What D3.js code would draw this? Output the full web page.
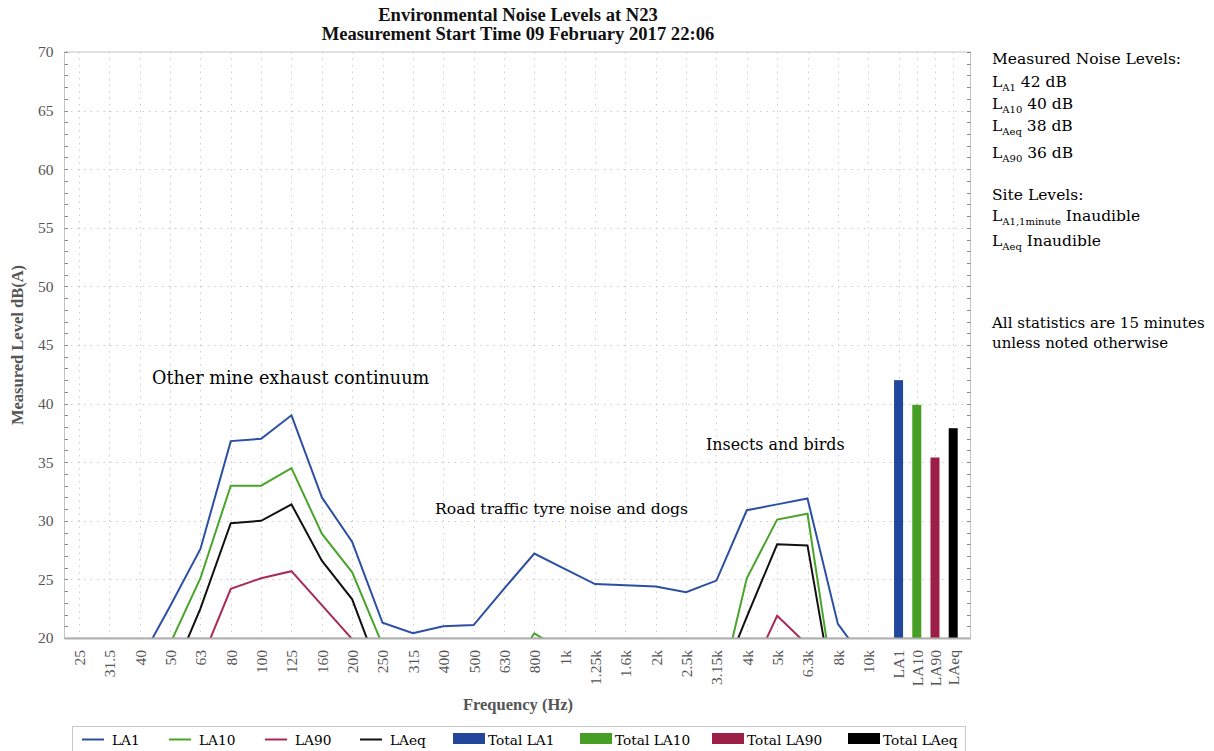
<!DOCTYPE html>
<html><head><meta charset="utf-8">
<script src="https://cdn.jsdelivr.net/npm/d3@7"></script>
<style>
body{margin:0;background:#fff}
text{font-family:"DejaVu Serif",serif}
</style>
</head><body><svg id="c" width="1214" height="751"></svg>
<script>
// ---------- data ----------
const frequencies = ["25","31.5","40","50","63","80","100","125","160","200","250","315","400","500","630","800","1k","1.25k","1.6k","2k","2.5k","3.15k","4k","5k","6.3k","8k","10k"];
const la1  = [10, 12, 18, 22.7, 27.6, 36.8, 37.0, 39.0, 32.0, 28.2, 21.3, 20.4, 21.0, 21.1, 24.2, 27.2, 25.9, 24.6, 24.5, 24.4, 23.9, 24.9, 30.9, 31.4, 31.9, 21.2, 17.7];
const la10 = [8, 10, 15, 19.5, 25.1, 33.0, 33.0, 34.5, 28.9, 25.6, 19.4, 12, 12, 13, 16.5, 20.4, 18.8, 14, 13, 13, 12, 14.2, 25.1, 30.1, 30.6, 13.5, 10];
const la90 = [5, 6, 8, 12, 17.9, 24.2, 25.1, 25.7, 22.8, 19.9, 15, 10, 10, 10, 10, 12, 10, 10, 10, 10, 10, 10, 16.3, 21.9, 19.4, 10, 8];
const laeq = [8, 10, 12, 16.4, 22.5, 29.8, 30.0, 31.4, 26.6, 23.3, 16.4, 12, 12, 12, 14, 17, 15, 12, 12, 12, 12, 15.4, 21.8, 28.0, 27.9, 13.0, 10];
const totalLabels = ["LA1","LA10","LA90","LAeq"];
const totalValues = [42.0, 39.9, 35.4, 37.9];
const yTicks = [20,25,30,35,40,45,50,55,60,65,70];
const seriesNames = ["LA1","LA10","LA90","LAeq"];
const lineColors = ["#2c4ea3","#4aa42b","#a82a57","#111111"];
const barColors  = ["#22469b","#479e24","#9c1f48","#000000"];
const annotations = ["Other mine exhaust continuum","Road traffic tyre noise and dogs","Insects and birds"];

// ---------- layout ----------
const svg = d3.select("#c");
svg.append("rect").attr("width",1214).attr("height",751).attr("fill","#fff");
const P = {left:64.5, right:970.5, top:52, bottom:638};
const x = d3.scaleLinear().domain([-0.478, 29.37]).range([P.left, P.right]);
const y = d3.scaleLinear().domain([20,70]).range([P.bottom, P.top]);
const totalIdx = totalLabels.map((d,j)=> 27 + 0.6*j);
const serifT = '"Liberation Serif","Times New Roman",serif';

// title
const title = svg.append("text").attr("text-anchor","middle").attr("font-weight","bold")
  .style("font-family",serifT).attr("font-size",18.6).attr("fill","#111");
title.append("tspan").attr("x",518).attr("y",21).text("Environmental Noise Levels at N23");
title.append("tspan").attr("x",518).attr("y",40).text("Measurement Start Time 09 February 2017 22:06");

// grid
const grid = svg.append("g").attr("stroke","#cdcdcd").attr("stroke-width",1).attr("stroke-dasharray","1.5,5");
grid.selectAll(".gh").data(yTicks.filter(v=>v>20&&v<70)).join("line")
  .attr("x1",P.left).attr("x2",P.right).attr("y1",d=>Math.round(y(d))+0.5).attr("y2",d=>Math.round(y(d))+0.5);
const allIdx = frequencies.map((d,i)=>i).concat(totalIdx);
grid.selectAll(".gv").data(allIdx).join("line")
  .attr("x1",d=>Math.round(x(d))+0.5).attr("x2",d=>Math.round(x(d))+0.5).attr("y1",P.top).attr("y2",P.bottom);

// frame
svg.append("rect").attr("x",P.left).attr("y",P.top).attr("width",P.right-P.left).attr("height",P.bottom-P.top)
  .attr("fill","none").attr("stroke","#c4c4c4").attr("stroke-width",1);

// minor ticks on both vertical axes
const minor = d3.range(20,71);
svg.append("g").attr("stroke","#888").selectAll("line").data(minor).join("line")
  .attr("x1",P.left).attr("x2",P.left+3.5).attr("y1",d=>Math.round(y(d))+0.5).attr("y2",d=>Math.round(y(d))+0.5);
svg.append("g").attr("stroke","#888").selectAll("line").data(minor).join("line")
  .attr("x1",P.right-3.5).attr("x2",P.right).attr("y1",d=>Math.round(y(d))+0.5).attr("y2",d=>Math.round(y(d))+0.5);

// clip
svg.append("clipPath").attr("id","clip").append("rect")
  .attr("x",P.left).attr("y",P.top).attr("width",P.right-P.left).attr("height",P.bottom-P.top);

// lines
const series = [la1, la10, la90, laeq];
const line = d3.line().x((d,i)=>x(i)).y(d=>y(d));
const lg = svg.append("g").attr("clip-path","url(#clip)");
series.forEach((s,k)=>{
  lg.append("path").datum(s).attr("d",line).attr("fill","none")
    .attr("stroke",lineColors[k]).attr("stroke-width",2).attr("stroke-linejoin","miter");
});

// total bars
svg.append("g").selectAll("rect").data(totalValues).join("rect")
  .attr("x",(d,j)=>x(totalIdx[j])-4.5).attr("width",9)
  .attr("y",d=>y(d)).attr("height",d=>y(20)-y(d))
  .attr("fill",(d,j)=>barColors[j]);

// bottom axis line
svg.append("line").attr("x1",P.left).attr("x2",P.right).attr("y1",P.bottom+0.5).attr("y2",P.bottom+0.5)
  .attr("stroke","#b0b0b0").attr("stroke-width",2);

// y axis labels
const yAxis = svg.append("g").attr("transform",`translate(${P.left},0)`)
  .call(d3.axisLeft(y).tickValues(yTicks).tickSize(0).tickPadding(11));
yAxis.select(".domain").remove();
yAxis.selectAll("text").style("font-family",serifT).attr("font-size",15.5).attr("fill","#555");

// x axis labels
const xLabels = frequencies.concat(totalLabels);
const xAxis = svg.append("g").attr("transform",`translate(0,${P.bottom})`)
  .call(d3.axisBottom(x).tickValues(allIdx).tickFormat((d,i)=>xLabels[i]).tickSize(0));
xAxis.select(".domain").remove();
xAxis.selectAll("text").style("font-family",serifT).attr("font-size",15.5).attr("fill","#555")
  .attr("transform","rotate(-90)").attr("text-anchor","end").attr("x",-12).attr("y",0).attr("dy","0.35em");

// axis titles
svg.append("text").attr("x",518).attr("y",710).attr("text-anchor","middle").attr("font-weight","bold")
  .style("font-family",serifT).attr("font-size",16.5).attr("fill","#555").text("Frequency (Hz)");
svg.append("text").attr("transform","translate(23,345) rotate(-90)").attr("text-anchor","middle").attr("font-weight","bold")
  .style("font-family",serifT).attr("font-size",16.5).attr("fill","#555").text("Measured Level dB(A)");

// annotations
const annPos = [[152,384,17.6],[435,514,15.6],[706,450,15.9]];
svg.append("g").selectAll("text").data(annotations).join("text")
  .attr("x",(d,i)=>annPos[i][0]).attr("y",(d,i)=>annPos[i][1]).attr("font-size",(d,i)=>annPos[i][2])
  .attr("fill","#000").text(d=>d);

// right info block
function subLine(yy, sub, rest){
  const t = svg.append("text").attr("x",992).attr("y",yy).attr("font-size",15.5).attr("fill","#000");
  t.append("tspan").text("L");
  t.append("tspan").attr("font-size",10).attr("dy",4).text(sub);
  t.append("tspan").attr("dy",-4).text(" "+rest);
}
svg.append("text").attr("x",992).attr("y",64).attr("font-size",15.5).text("Measured Noise Levels:");
subLine(87,"A1","42 dB");
subLine(109,"A10","40 dB");
subLine(131,"Aeq","38 dB");
subLine(158,"A90","36 dB");
svg.append("text").attr("x",992).attr("y",200).attr("font-size",15.5).text("Site Levels:");
subLine(221,"A1,1minute","Inaudible");
subLine(246,"Aeq","Inaudible");
svg.append("text").attr("x",992).attr("y",328).attr("font-size",15).text("All statistics are 15 minutes");
svg.append("text").attr("x",992).attr("y",348).attr("font-size",15).text("unless noted otherwise");

// legend
svg.append("rect").attr("x",72.5).attr("y",726.5).attr("width",893).attr("height",30)
  .attr("fill","#fff").attr("stroke","#c8c8c8");
const legX = [82,169,265,360,453,580,712,848];
const legItems = seriesNames.map((n,k)=>({name:n,type:"line",color:lineColors[k]}))
  .concat(totalLabels.map((n,k)=>({name:"Total "+n,type:"rect",color:barColors[k]})));
legItems.forEach((it,i)=>{
  const g = svg.append("g").attr("transform",`translate(${legX[i]},0)`);
  if(it.type==="line"){
    g.append("line").attr("x1",0).attr("x2",22).attr("y1",739.5).attr("y2",739.5).attr("stroke",it.color).attr("stroke-width",2);
    g.append("text").attr("x",30).attr("y",745).attr("font-size",13.7).text(it.name);
  } else {
    g.append("rect").attr("x",0).attr("y",733).attr("width",32).attr("height",11).attr("fill",it.color);
    g.append("text").attr("x",35).attr("y",745).attr("font-size",13.7).text(it.name);
  }
});
</script>
</body></html>
